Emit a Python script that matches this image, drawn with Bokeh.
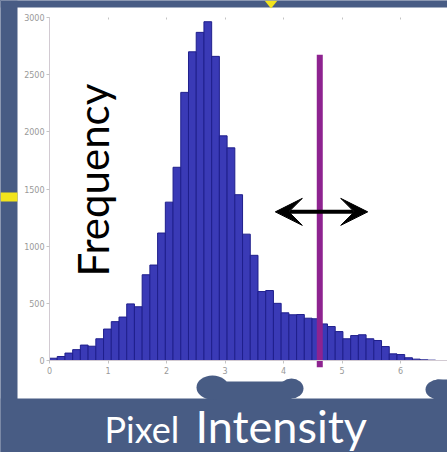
import numpy as np
from bokeh.plotting import figure
from bokeh.models import LinearAxis, FixedTicker, Range1d, Label, Arrow, VeeHead
from bokeh.embed import file_html
from bokeh.resources import INLINE

# ---- data ----
counts = [20, 35, 65, 95, 135, 125, 190, 275, 340, 380,
          495, 470, 750, 835, 1115, 1385, 1690, 2345, 2700, 2870,
          2963, 2660, 1965, 1860, 1450, 1105, 920, 603, 612, 500,
          417, 400, 402, 370, 365, 320, 297, 253, 190, 218,
          225, 190, 175, 122, 58, 52, 24, 12, 6, 3]
bin_width = 0.132
x_ticks = [0, 1, 2, 3, 4, 5, 6]
y_ticks = [0, 500, 1000, 1500, 2000, 2500, 3000]
threshold_x = 4.62
threshold_top = 2675
threshold_bottom = -60
arrow_x = [3.86, 5.44]
arrow_y = 1300
x_label_small = "Pixel"
x_label_big = "Intensity"
y_label = "Frequency"

# ---- layout helpers (page pixels -> data) ----
SLIDE_BLUE = "#485c84"
YELLOW = "#f2e41c"
W, H = 447, 452
def dx(px):
    return (px - 49) / 58.5
def dy(py):
    return (360 - py) * 3000 / 343
def sw(px):
    return px / 58.5
def sh(px):
    return px * 3000 / 343
BASE_SHIFT = 0.405  # empirical baseline offset (in em) of rotated/plain labels

p = figure(width=W, height=H,
           x_range=Range1d(dx(0), dx(W)), y_range=Range1d(dy(H), dy(0)),
           output_backend="svg", toolbar_location=None,
           x_axis_type=None, y_axis_type=None,
           min_border_left=0, min_border_right=0, min_border_top=0, min_border_bottom=0,
           border_fill_color=SLIDE_BLUE, background_fill_color="white",
           outline_line_color=None)
p.grid.visible = False

# slide frame around the white chart panel (decoration)
p.quad(left=[dx(0), dx(0), dx(0)], right=[dx(17), dx(W), dx(W)],
       bottom=[dy(H), dy(7), dy(H)], top=[dy(0), dy(0), dy(398)],
       fill_color=SLIDE_BLUE, line_color=None)
p.ellipse(x=[dx(212), dx(291), dx(438)], y=[dy(387), dy(388), dy(389)],
          width=[sw(32), sw(24), sw(26)], height=[sh(24), sh(20), sh(20)],
          fill_color=SLIDE_BLUE, line_color=None)
p.quad(left=[dx(212), dx(436)], right=[dx(291), dx(W)],
       bottom=[dy(399), dy(399)], top=[dy(381), dy(379)],
       fill_color=SLIDE_BLUE, line_color=None)
p.quad(left=[dx(0)], right=[dx(17)], bottom=[dy(201)], top=[dy(192)],
       fill_color=YELLOW, line_color=None)
p.patch(x=[dx(264), dx(277), dx(270.5)], y=[dy(0), dy(0), dy(8)],
        fill_color=YELLOW, line_color=None)

# histogram
edges = np.arange(len(counts) + 1) * bin_width
p.quad(left=edges[:-1], right=edges[1:], bottom=0, top=counts,
       fill_color="#3a3ab6", line_color="#1f1f8c", line_width=1)

# threshold line
p.segment(x0=[threshold_x], y0=[threshold_bottom], x1=[threshold_x], y1=[threshold_top],
          line_color="#8e2390", line_width=6)

p.add_layout(Arrow(start=VeeHead(size=27, fill_color="black", line_color="black"),
                   end=VeeHead(size=27, fill_color="black", line_color="black"),
                   x_start=arrow_x[0], y_start=arrow_y, x_end=arrow_x[1], y_end=arrow_y,
                   line_width=4, line_color="black"))

axis_style = dict(axis_line_color="#d2cad2", major_tick_line_color="#c4c4c4",
                  major_tick_out=3, major_tick_in=0, minor_tick_line_color=None,
                  major_label_text_font_size="8px", major_label_text_color="#999999",
                  major_label_text_font="DejaVu Sans")
yaxis = LinearAxis(fixed_location=0, ticker=FixedTicker(ticks=y_ticks),
                   bounds=(0, y_ticks[-1]), major_label_standoff=2, **axis_style)
p.add_layout(yaxis, "left")
xaxis = LinearAxis(fixed_location=0, ticker=FixedTicker(ticks=x_ticks),
                   bounds=(0, dx(W)), major_label_standoff=3, **axis_style)
p.add_layout(xaxis, "below")
topaxis = LinearAxis(fixed_location=y_ticks[-1], ticker=FixedTicker(ticks=x_ticks),
                     axis_line_color=None, major_tick_line_color="#c4c4c4",
                     major_tick_in=2, major_tick_out=0, minor_tick_line_color=None,
                     major_label_overrides={t: "" for t in x_ticks})
p.add_layout(topaxis, "above")

# texts
fs = 42
p.add_layout(Label(x=dx(110 - BASE_SHIFT * fs), y=dy(276), text=y_label, angle=np.pi / 2,
                   text_font="Lato", text_font_size="%dpx" % fs, text_color="black",
                   text_baseline="alphabetic"))
fs1, fs2 = 36, 45
p.add_layout(Label(x=dx(104), y=dy(443.5 - BASE_SHIFT * fs1), text=x_label_small,
                   text_font="Lato", text_font_size="%dpx" % fs1, text_color="white",
                   text_baseline="alphabetic"))
p.add_layout(Label(x=dx(195), y=dy(443.5 - BASE_SHIFT * fs2), text=x_label_big,
                   text_font="Lato", text_font_size="%dpx" % fs2, text_color="white",
                   text_baseline="alphabetic"))

html = file_html(p, INLINE, title="Pixel Intensity")
html = html.replace("</head>", "<style>body{background:%s;}</style></head>" % SLIDE_BLUE, 1)
open("out.html", "w").write(html)
